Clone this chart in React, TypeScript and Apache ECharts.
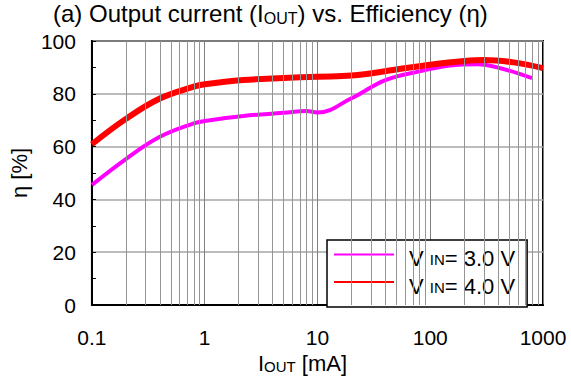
import React, { useEffect, useRef } from "react";
import * as echarts from "echarts";

// ---- data ----
const seriesNames = ["V IN= 3.0 V", "V IN= 4.0 V"];
const seriesColors = ["#ff00ff", "#ff0000"];
const seriesWidths = [4, 6];

const iout30 = [0.1, 0.2, 0.4, 0.8, 1, 2.2, 5, 8, 10, 20, 40, 80, 150, 260, 420, 800];
const eff30 = [45.5, 55.3, 63.7, 68.8, 69.7, 71.6, 72.8, 73.5, 72.9, 78.3, 85.2, 88.5, 90.7, 91.2, 89.7, 85.9];

const iout40 = [0.1, 0.2, 0.4, 0.8, 1, 2.2, 5, 10, 20, 50, 100, 200, 300, 550, 1000];
const eff40 = [60.9, 70.5, 78.2, 82.7, 83.6, 85.2, 86.0, 86.5, 86.9, 89.2, 91.0, 92.4, 92.8, 91.9, 89.7];

const minorGridX = [
  0.2, 0.3, 0.4, 0.5, 0.6, 0.7, 0.8, 0.9,
  2, 3, 4, 5, 6, 7, 8, 9,
  20, 30, 40, 50, 60, 70, 80, 90,
  200, 300, 400, 500, 600, 700, 800, 900,
];

const FONT = "'Liberation Sans', Arial, sans-serif";

export default function App() {
  const ref = useRef<HTMLDivElement>(null);
  useEffect(() => {
    if (!ref.current) return;
    const chart = echarts.init(ref.current, undefined, { renderer: "svg" });
    const subStyle = { fontSize: 15, lineHeight: 10, verticalAlign: "bottom", fontFamily: FONT, color: "#000" };
    const option: any = {
      animation: false,
      backgroundColor: "#fff",
      title: {
        text: "(a) Output current (I{s|OUT}) vs. Efficiency (η)",
        left: 53,
        top: 1,
        padding: 0,
        textStyle: {
          fontSize: 24,
          fontWeight: "normal",
          color: "#000",
          fontFamily: FONT,
          lineHeight: 25,
          rich: { s: { ...subStyle, fontSize: 16, lineHeight: 11 } },
        },
      },
      grid: {
        left: 91,
        right: 28,
        top: 41,
        bottom: 78,
        show: true,
        borderColor: "#000",
        borderWidth: 2,
        backgroundColor: "transparent",
      },
      legend: {
        orient: "vertical",
        left: 327,
        top: 240,
        padding: [2, 12, 10, 6],
        itemGap: 0,
        itemWidth: 60,
        itemHeight: 14,
        borderColor: "#000",
        borderWidth: 1.5,
        backgroundColor: "#fff",
        itemStyle: { opacity: 0 },
        data: seriesNames,
        formatter: (name: string) => name.replace(" IN", " {s|IN}"),
        textStyle: {
          fontSize: 22,
          color: "#000",
          fontFamily: FONT,
          lineHeight: 17,
          padding: [8, 0, 0, 10],
          rich: { s: { ...subStyle, fontSize: 15, lineHeight: 9 } },
        },
      },
      xAxis: {
        type: "log",
        logBase: 10,
        min: 0.1,
        max: 1000,
        name: "I{s|OUT} [mA]",
        nameLocation: "middle",
        nameGap: 38,
        nameTextStyle: {
          fontSize: 22,
          color: "#000",
          fontFamily: FONT,
          lineHeight: 20,
          padding: [0, 30, 0, 0],
          rich: { s: { ...subStyle, fontSize: 15 } },
        },
        axisLine: { show: true, lineStyle: { color: "#000", width: 2 } },
        axisTick: { show: false },
        axisLabel: {
          fontSize: 21,
          color: "#000",
          fontFamily: FONT,
          margin: 22,
          formatter: (v: number) => String(Math.round(v * 10) / 10),
        },
        splitLine: { show: true, lineStyle: { color: "#7f7f7f", width: 1 } },
        minorTick: { show: false },
      },
      yAxis: {
        type: "value",
        min: 0,
        max: 100,
        interval: 20,
        name: "η [%]",
        nameLocation: "middle",
        nameRotate: 90,
        nameGap: 59,
        nameTextStyle: { fontSize: 22, color: "#000", fontFamily: FONT },
        axisLine: { show: true, lineStyle: { color: "#000", width: 2 } },
        axisTick: { show: true, inside: true, length: 4, lineStyle: { color: "#000" } },
        minorTick: { show: true, splitNumber: 2, length: 4, lineStyle: { color: "#000", width: 1 } },
        axisLabel: { fontSize: 21, color: "#000", fontFamily: FONT, margin: 16 },
        splitLine: { show: true, lineStyle: { color: "#a6a6a6", width: 1.5 } },
      },
      series: [
        {
          name: "grid-minor",
          type: "line",
          data: [],
          z: 1,
          silent: true,
          markLine: {
            silent: true,
            symbol: ["none", "none"],
            label: { show: false },
            lineStyle: { color: "#959595", width: 1, type: "solid" },
            data: minorGridX.map((v) => ({ xAxis: v })),
          },
        },
        {
          name: seriesNames[0],
          type: "line",
          data: iout30.map((x, i) => [x, eff30[i]]),
          showSymbol: false,
          symbol: "none",
          smooth: 0.4,
          z: 3,
          color: seriesColors[0],
          lineStyle: { color: seriesColors[0], width: seriesWidths[0] },
        },
        {
          name: seriesNames[1],
          type: "line",
          data: iout40.map((x, i) => [x, eff40[i]]),
          showSymbol: false,
          symbol: "none",
          smooth: 0.4,
          z: 4,
          color: seriesColors[1],
          lineStyle: { color: seriesColors[1], width: seriesWidths[1] },
        },
      ],
    };
    chart.setOption(option);
    return () => chart.dispose();
  }, []);
  return (
    <div
      ref={ref}
      style={{ position: "fixed", left: 0, top: 0, width: 571, height: 383 }}
    />
  );
}
